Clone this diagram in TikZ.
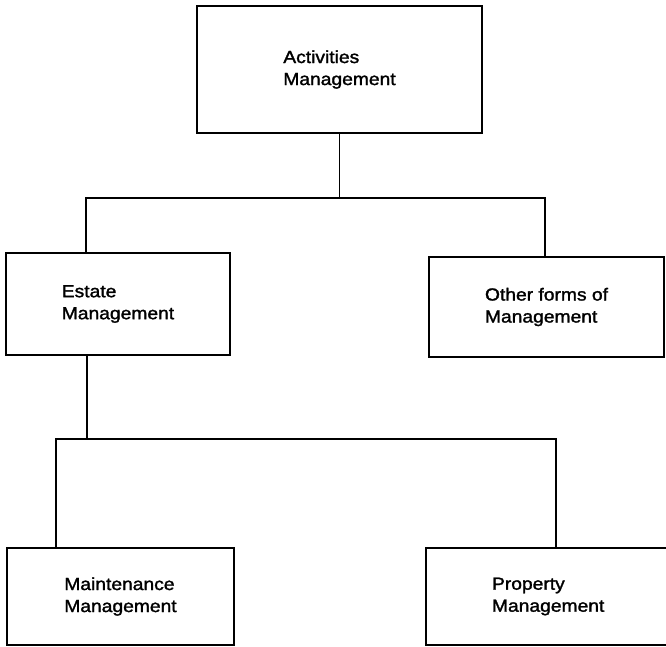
\documentclass[tikz,border=0pt]{standalone}
\usepackage{fontspec}
\setmainfont{Liberation Sans}[FakeStretch=1.1,FakeBold=1.6]
\begin{document}
\begin{tikzpicture}[x=1pt,y=-1pt,
  box/.style={draw=black, line width=1.2pt, align=left, inner sep=0pt,
    font=\fontsize{17.5}{22}\selectfont},
  conn/.style={draw=black, line width=1.2pt}]
\useasboundingbox (0,0) rectangle (666,646);
\node[box, minimum width=285pt, minimum height=127pt] (top) at (339.5,69.5) {Activities\\Management};
\node[box, minimum width=224pt, minimum height=102pt] (estate) at (118,304) {Estate\\Management};
\node[box, minimum width=235pt, minimum height=100pt] (other) at (546.5,307) {Other forms of\\Management};
\node[box, minimum width=227pt, minimum height=97pt] (maint) at (120.5,596.5) {Maintenance\\Management};
\node[box, minimum width=270pt, minimum height=97pt, text width=138pt] (prop) at (561,596.5) {Property\\Management};
\coordinate (b1) at (86,198);
\coordinate (b2) at (545,198);
\coordinate (c1) at (56,439);
\coordinate (c2) at (556,439);
\coordinate (e1) at (87,439);
\draw[conn] (top.south) -- (top.south |- b1);
\draw[conn] (b1 |- estate.north) -- (b1) -- (b2) -- (b2 |- other.north);
\draw[conn] (e1 |- estate.south) -- (e1);
\draw[conn] (c1 |- maint.north) -- (c1) -- (c2) -- (c2 |- prop.north);
\end{tikzpicture}
\end{document}
